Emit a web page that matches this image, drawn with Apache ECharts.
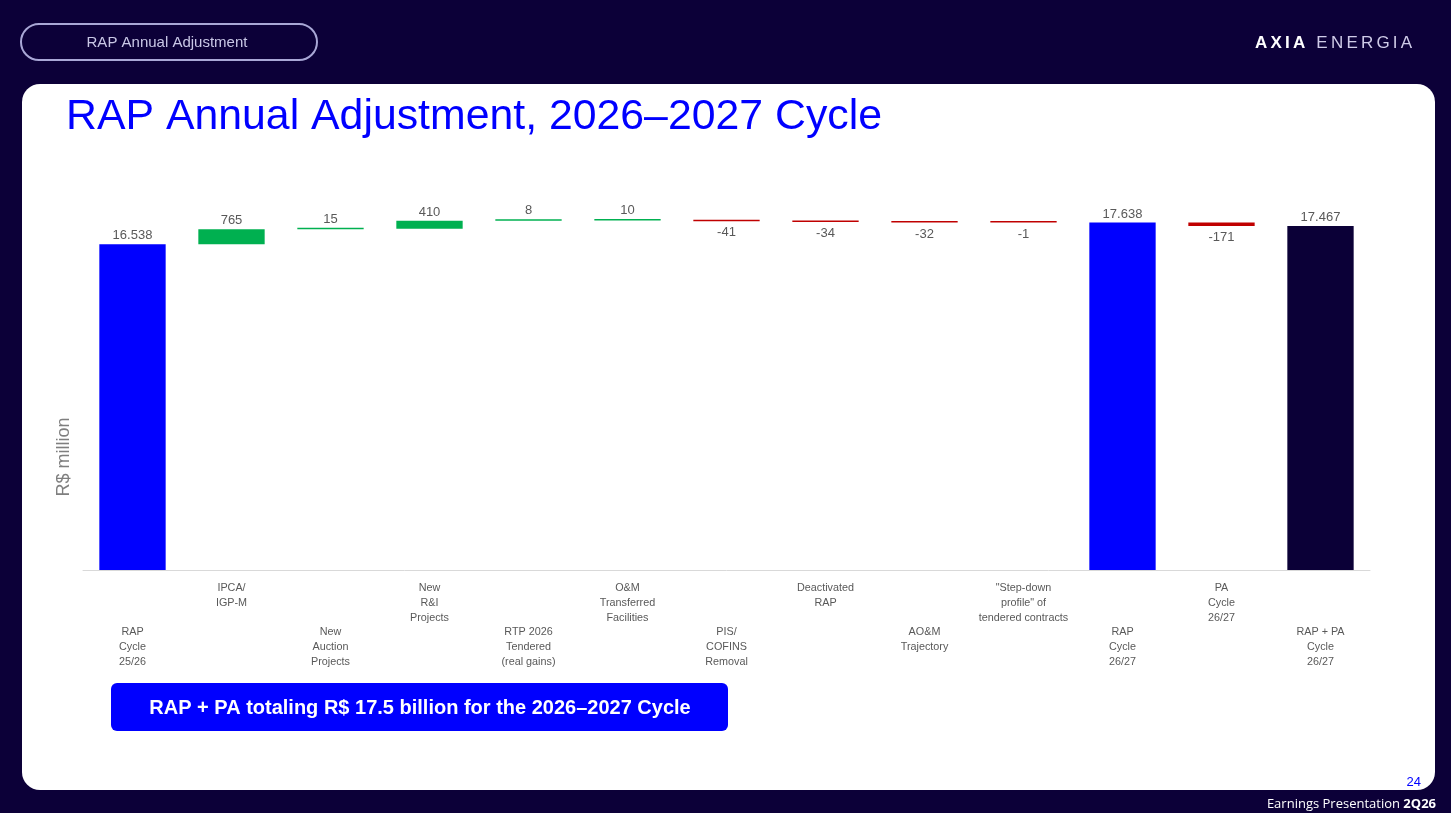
<!DOCTYPE html>
<html>
<head>
<meta charset="utf-8">
<script src="https://cdn.jsdelivr.net/npm/echarts@6/dist/echarts.min.js"></script>
<style>
  html, body { margin: 0; padding: 0; background: #0c0038; }
  #main { width: 1451px; height: 813px; }
  #logo {
    position: absolute; left: 1255px; top: 33px;
    font-family: "Liberation Sans", Arial, sans-serif; font-size: 17px;
    color: #e6e4f4; letter-spacing: 3.2px; white-space: nowrap;
  }
  #logo b { font-weight: bold; color: #ffffff; }
  #logo span { font-weight: normal; color: #cfcbe8; }
</style>
</head>
<body>
<div id="main"></div>
<div id="logo"><b>AXIA</b> <span>ENERGIA</span></div>
<script>
// categories, in slide order
var categories = [
  'RAP\nCycle\n25/26',
  'IPCA/\nIGP-M',
  'New\nAuction\nProjects',
  'New\nR&I\nProjects',
  'RTP 2026\nTendered\n(real gains)',
  'O&M\nTransferred\nFacilities',
  'PIS/\nCOFINS\nRemoval',
  'Deactivated\nRAP',
  'AO&M\nTrajectory',
  '"Step-down\nprofile" of\ntendered contracts',
  'RAP\nCycle\n26/27',
  'PA\nCycle\n26/27',
  'RAP + PA\nCycle\n26/27'
];
// R$ million
var values = [16538, 765, 15, 410, 8, 10, -41, -34, -32, -1, 17638, -171, 17467];
var isTotal = [true, false, false, false, false, false, false, false, false, false, true, false, true];

var colTotal = '#0000ff';
var colFinal = '#0b0037';
var colUp = '#00b050';
var colDown = '#c00000';

function fmt(v) {
  return String(v).replace(/\B(?=(\d{3})+(?!\d))/g, '.');
}

// waterfall: invisible base + visible step
var base = [];
var steps = [];
var cum = 0;
values.forEach(function (v, i) {
  var color;
  if (isTotal[i]) {
    base.push(0);
    cum = v;
    color = i === values.length - 1 ? colFinal : colTotal;
    steps.push({ value: v, itemStyle: { color: color }, label: { position: 'top', distance: 2 } });
    return;
  }
  if (v >= 0) {
    base.push(cum);
    cum += v;
    steps.push({ value: v, itemStyle: { color: colUp }, label: { position: 'top', distance: 2 } });
  } else {
    cum += v;
    base.push(cum);
    steps.push({ value: -v, itemStyle: { color: colDown }, label: { position: 'bottom', distance: 5 } });
  }
});

var chart = echarts.init(document.getElementById('main'));

var option = {
  backgroundColor: '#0c0038',
  animation: false,
  textStyle: { fontFamily: '"Liberation Sans", Arial, sans-serif' },
  graphic: [
    // white slide panel
    {
      type: 'rect', z: -10,
      shape: { x: 22, y: 84, width: 1413, height: 706, r: 18 },
      style: { fill: '#ffffff' }
    },
    // section pill
    {
      type: 'rect',
      shape: { x: 21, y: 24, width: 296, height: 36, r: 18 },
      style: { fill: 'none', stroke: '#a9a7d6', lineWidth: 2 }
    },
    {
      type: 'text', x: 167, y: 43,
      style: {
        text: 'RAP Annual Adjustment', fill: '#c9c7e6',
        font: '15px "Liberation Sans", Arial, sans-serif',
        align: 'center', verticalAlign: 'middle'
      }
    },
    // title
    {
      type: 'text', x: 66, y: 117,
      style: {
        text: 'RAP Annual Adjustment, 2026\u20132027 Cycle', fill: '#0000ff',
        font: '42.8px "Liberation Sans", Arial, sans-serif',
        verticalAlign: 'middle'
      }
    },
    // y axis caption
    {
      type: 'text', x: 64, y: 457, rotation: Math.PI / 2,
      style: {
        text: 'R$ million', fill: '#7f7f7f',
        font: '18px "Liberation Sans", Arial, sans-serif',
        align: 'center', verticalAlign: 'middle'
      }
    },
    // highlight banner
    {
      type: 'rect',
      shape: { x: 111, y: 683, width: 617, height: 48, r: 6 },
      style: { fill: '#0000ff' }
    },
    {
      type: 'text', x: 420, y: 708,
      style: {
        text: 'RAP + PA totaling R$ 17.5 billion for the 2026\u20132027 Cycle', fill: '#ffffff',
        font: 'bold 20px "Liberation Sans", Arial, sans-serif',
        align: 'center', verticalAlign: 'middle'
      }
    },
    // page number
    {
      type: 'text', x: 1421, y: 782,
      style: {
        text: '24', fill: '#0000ff',
        font: '13px "Liberation Sans", Arial, sans-serif',
        align: 'right', verticalAlign: 'middle'
      }
    },
    // footer
    {
      type: 'text', x: 1436, y: 804,
      style: {
        text: '{r|Earnings Presentation }{b|2Q26}',
        align: 'right', verticalAlign: 'middle',
        rich: {
          r: { fill: '#ffffff', fontSize: 13, fontFamily: '"Open Sans", sans-serif' },
          b: { fill: '#ffffff', fontSize: 13, fontWeight: 'bold', fontFamily: '"Open Sans", sans-serif' }
        }
      }
    }
  ],
  grid: { left: 83, right: 81, top: 176, bottom: 243 },
  xAxis: {
    type: 'category',
    data: categories,
    axisLine: { lineStyle: { color: '#d9d9d9', width: 1 } },
    axisTick: { show: false },
    axisLabel: {
      interval: 0,
      margin: 11,
      color: '#595959',
      fontSize: 10.8,
      lineHeight: 14.7,
      verticalAlign: 'top',
      formatter: function (val, idx) {
        // staggered labels: even categories drop to the second row
        return idx % 2 === 0 ? '\n\n\n' + val : val;
      }
    }
  },
  yAxis: {
    type: 'value',
    min: 0,
    max: 20000,
    show: false,
    splitLine: { show: false }
  },
  series: [
    {
      name: 'base',
      type: 'bar',
      stack: 'w',
      barWidth: '67%',
      itemStyle: { color: 'transparent' },
      silent: true,
      data: base
    },
    {
      name: 'step',
      type: 'bar',
      stack: 'w',
      barWidth: '67%',
      barMinHeight: 1.5,
      label: {
        show: true,
        color: '#595959',
        fontSize: 13,
        formatter: function (p) {
          return fmt(values[p.dataIndex]);
        }
      },
      data: steps
    }
  ]
};

chart.setOption(option);
</script>
</body>
</html>
